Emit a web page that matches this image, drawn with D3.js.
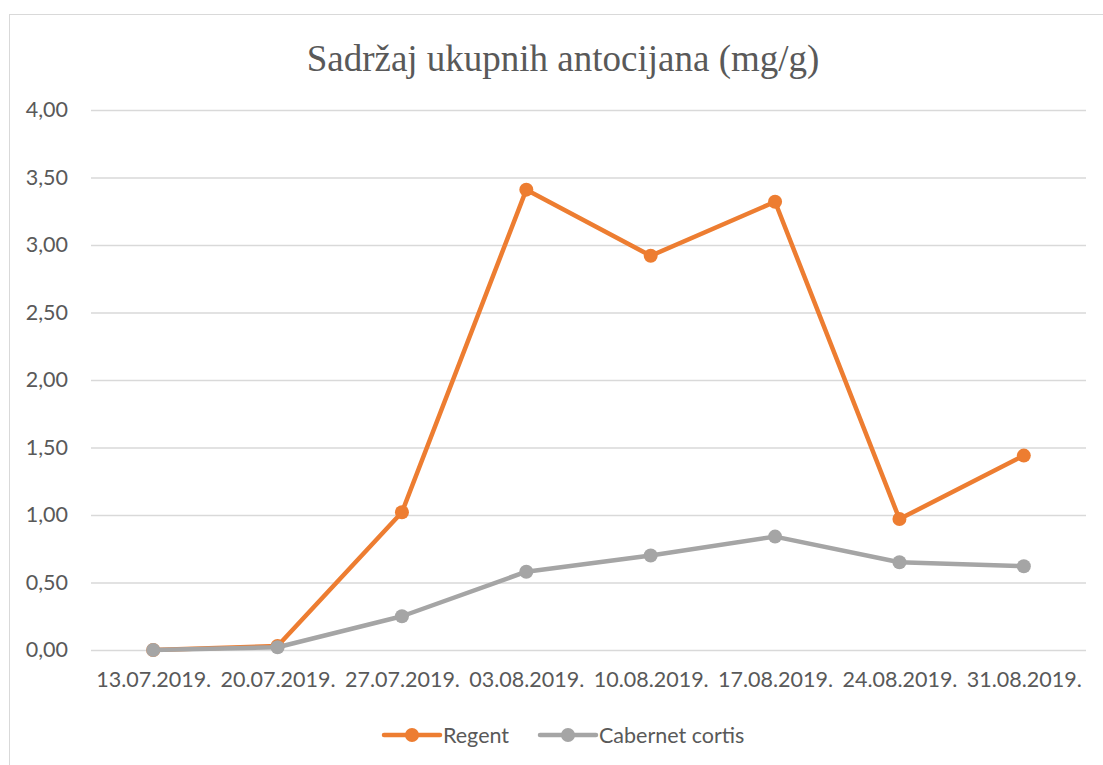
<!DOCTYPE html>
<html><head><meta charset="utf-8">
<script src="https://cdn.jsdelivr.net/npm/d3@7"></script>
<style>body{margin:0;background:#fff}svg{display:block}</style>
</head><body>
<script>
const categories = ["13.07.2019.","20.07.2019.","27.07.2019.","03.08.2019.","10.08.2019.","17.08.2019.","24.08.2019.","31.08.2019."];
const regent = [0.00, 0.03, 1.02, 3.41, 2.92, 3.32, 0.97, 1.44];
const cabernet = [0.00, 0.02, 0.25, 0.58, 0.70, 0.84, 0.65, 0.62];
const yTicks = [0, 0.5, 1, 1.5, 2, 2.5, 3, 3.5, 4];
const seriesNames = ["Regent", "Cabernet cortis"];
const colors = ["#ED7D31", "#A5A5A5"];

(function () {
const W = 1103, H = 765;
const svg = d3.select("body").append("svg").attr("width", W).attr("height", H);
svg.append("rect").attr("x", 9.5).attr("y", 14.5).attr("width", 1200).attr("height", 800)
  .attr("fill", "#fff").attr("stroke", "#D9D9D9").attr("stroke-width", 1);

const mLeft = 91, mRight = 1086, mTop = 110, mBottom = 650;
const x = d3.scalePoint().domain(categories).range([mLeft, mRight]).padding(0.5);
const y = d3.scaleLinear().domain([0, 4]).range([mBottom, mTop]);
const font = "Lato, 'Open Sans', sans-serif";
const fs = 21.5;

svg.append("text").attr("x", 563).attr("y", 71).attr("text-anchor", "middle")
  .attr("font-family", "'Liberation Serif', 'Times New Roman', serif").attr("font-size", 37)
  .attr("fill", "#595959").text("Sadržaj ukupnih antocijana (mg/g)");

const fmt = v => d3.format(".2f")(v).replace(".", ",");
const yAxis = svg.append("g").attr("transform", `translate(${mLeft},0)`)
  .call(d3.axisLeft(y).tickValues(yTicks).tickSize(-(mRight - mLeft)).tickFormat(fmt).tickPadding(23));
yAxis.select(".domain").remove();
yAxis.selectAll(".tick line").attr("stroke", "#D9D9D9").attr("stroke-width", 1.3);
yAxis.selectAll(".tick text").attr("font-family", font).attr("font-size", fs).attr("fill", "#595959");

const xAxis = svg.append("g").attr("transform", `translate(0,${mBottom})`)
  .call(d3.axisBottom(x).tickSize(0).tickPadding(22));
xAxis.select(".domain").remove();
xAxis.selectAll(".tick text").attr("font-family", font).attr("font-size", fs).attr("fill", "#595959");

const data = [regent, cabernet];
const line = d3.line().x((d, i) => x(categories[i])).y(d => y(d));
data.forEach((vals, k) => {
  svg.append("path").datum(vals).attr("d", line).attr("fill", "none")
    .attr("stroke", colors[k]).attr("stroke-width", 4.5).attr("stroke-linejoin", "round");
  svg.selectAll(null).data(vals).enter().append("circle")
    .attr("cx", (d, i) => x(categories[i])).attr("cy", d => y(d)).attr("r", 7)
    .attr("fill", colors[k]);
});

const legendX = [384, 540];
seriesNames.forEach((n, k) => {
  const g = svg.append("g").attr("transform", `translate(${legendX[k]},735)`);
  g.append("line").attr("x1", 0).attr("x2", 56).attr("stroke", colors[k]).attr("stroke-width", 4.5).attr("stroke-linecap", "round");
  g.append("circle").attr("cx", 28).attr("r", 7).attr("fill", colors[k]);
  g.append("text").attr("x", 59).attr("y", 7.5).attr("font-family", font).attr("font-size", fs)
    .attr("fill", "#595959").text(n);
});
})();
</script>
</body></html>
